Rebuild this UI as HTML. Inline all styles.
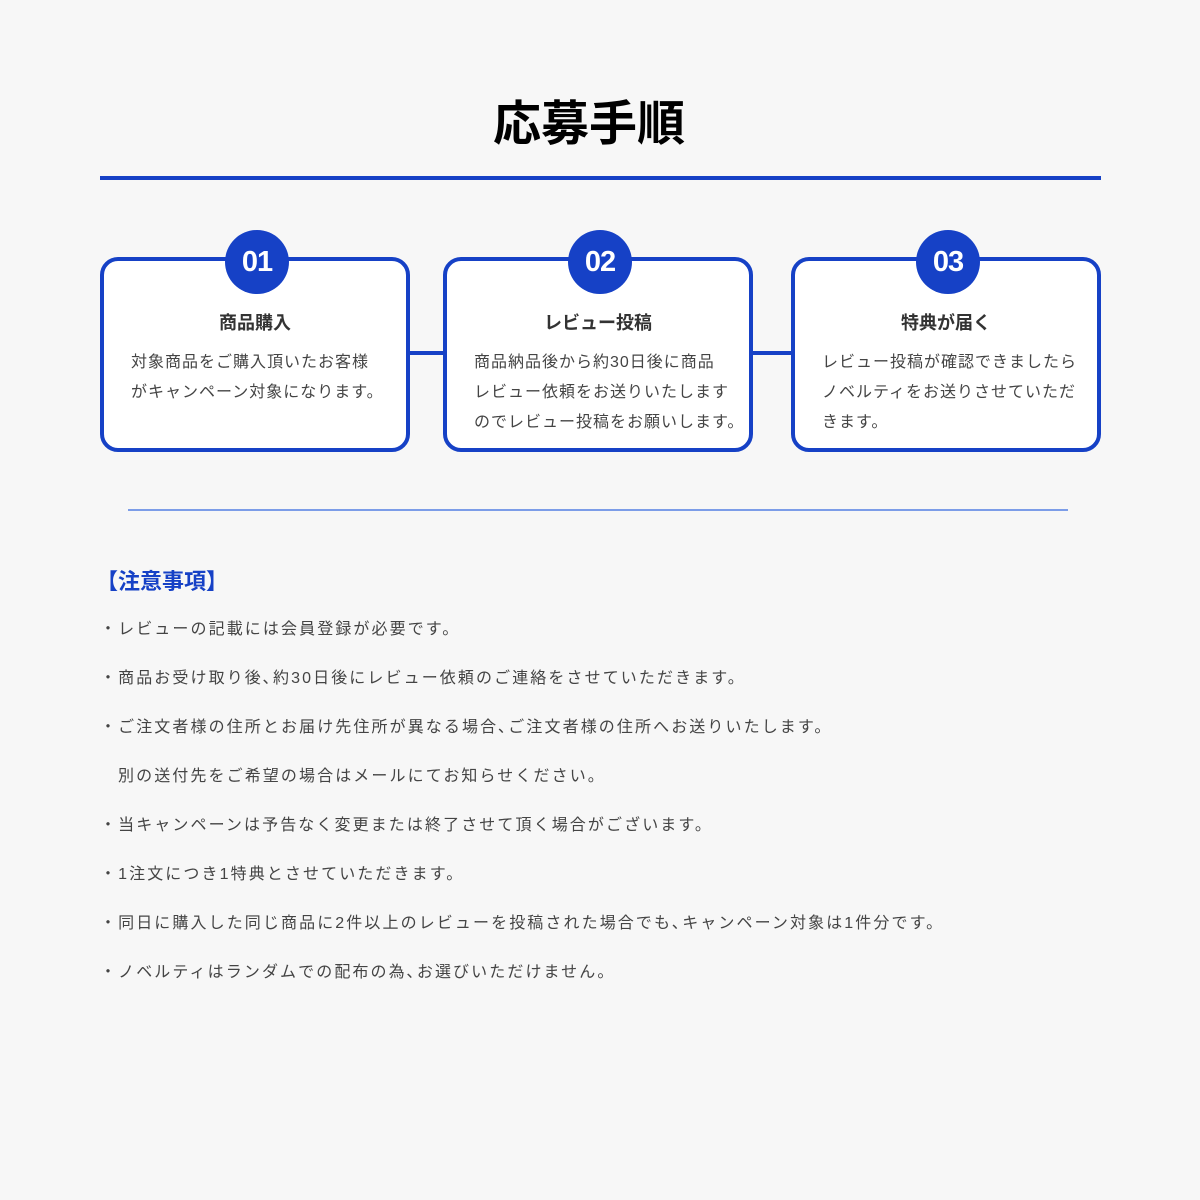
<!DOCTYPE html>
<html><head><meta charset="utf-8"><style>
*{margin:0;padding:0;box-sizing:border-box}
body{width:1200px;height:1200px;background:#f7f7f7;position:relative;font-family:"Liberation Sans","Noto Sans CJK JP",sans-serif;color:#444;overflow:hidden}
.abs{position:absolute}
.title{left:0;width:1178px;top:95px;text-align:center;font-size:48px;font-weight:bold;color:#000;line-height:60px}
.box{top:257px;height:195px;width:310px;border:4px solid #1641c6;border-radius:18px;background:#fff}
.circ{width:64px;height:64px;border-radius:50%;background:#1641c6;color:#fff;font-weight:bold;font-size:29px;line-height:64px;text-align:center;top:230px;font-family:"Liberation Sans",sans-serif;letter-spacing:-1px}
.bt{top:310px;font-size:18px;font-weight:bold;color:#333;text-align:center;width:310px;line-height:26px}
.bd{top:348px;font-size:16px;line-height:30px;letter-spacing:1px;white-space:nowrap}
.conn{height:4px;background:#1641c6;top:351px}
.note{left:100px;font-size:16px;letter-spacing:2.1px;white-space:nowrap;line-height:24px}
</style></head><body>
<div class="abs title">応募手順</div>
<div class="abs" style="left:100px;top:176px;width:1001px;height:4px;background:#1641c6"></div>

<div class="abs conn" style="left:406px;width:40px"></div>
<div class="abs conn" style="left:749px;width:45px"></div>

<div class="abs box" style="left:100px"></div>
<div class="abs box" style="left:443px"></div>
<div class="abs box" style="left:791px"></div>

<div class="abs circ" style="left:225px">01</div>
<div class="abs circ" style="left:568px">02</div>
<div class="abs circ" style="left:916px">03</div>

<div class="abs bt" style="left:100px">商品購入</div>
<div class="abs bt" style="left:443px">レビュー投稿</div>
<div class="abs bt" style="left:791px">特典が届く</div>

<div class="abs bd" style="left:131px">対象商品をご購入頂いたお客様<br>がキャンペーン対象になります。</div>
<div class="abs bd" style="left:474px">商品納品後から約30日後に商品<br>レビュー依頼をお送りいたします<br>のでレビュー投稿をお願いします。</div>
<div class="abs bd" style="left:822px">レビュー投稿が確認できましたら<br>ノベルティをお送りさせていただ<br>きます。</div>

<div class="abs" style="left:128px;top:509px;width:940px;height:2px;background:#7c9de8"></div>

<div class="abs" style="left:96px;top:567px;font-size:22px;font-weight:bold;color:#1641c6;line-height:30px">【注意事項】</div>

<div class="abs note" style="top:618px">・レビューの記載には会員登録が必要です。</div>
<div class="abs note" style="top:667px">・商品お受け取り後､約30日後にレビュー依頼のご連絡をさせていただきます。</div>
<div class="abs note" style="top:716px">・ご注文者様の住所とお届け先住所が異なる場合､ご注文者様の住所へお送りいたします。</div>
<div class="abs note" style="top:765px;left:118px">別の送付先をご希望の場合はメールにてお知らせください。</div>
<div class="abs note" style="top:814px">・当キャンペーンは予告なく変更または終了させて頂く場合がございます。</div>
<div class="abs note" style="top:863px">・1注文につき1特典とさせていただきます。</div>
<div class="abs note" style="top:912px">・同日に購入した同じ商品に2件以上のレビューを投稿された場合でも､キャンペーン対象は1件分です。</div>
<div class="abs note" style="top:961px">・ノベルティはランダムでの配布の為､お選びいただけません。</div>
</body></html>
